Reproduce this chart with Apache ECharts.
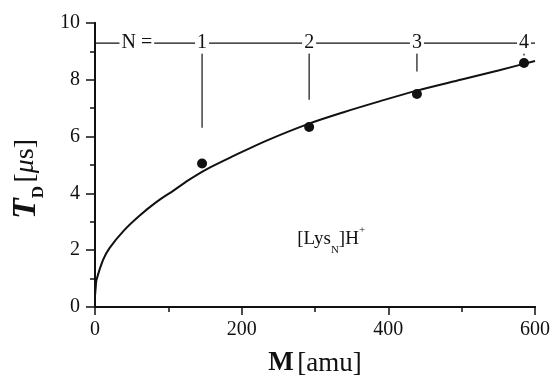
<!DOCTYPE html>
<html>
<head>
<meta charset="utf-8">
<script src="https://cdn.jsdelivr.net/npm/echarts@6/dist/echarts.min.js"></script>
<style>html,body{margin:0;padding:0;background:#fff}#c{width:552px;height:379px}</style>
</head>
<body>
<div id="c"></div>
<script>
// ---- data ----
const xTicks = [0, 200, 400, 600];
const yTicks = [0, 2, 4, 6, 8, 10];
const clusterN = ['1', '2', '3', '4'];
const massM = [146, 292, 439, 585];          // amu
const tdValues = [5.05, 6.34, 7.50, 8.59];     // µs
const stemTop = 8.95;
const stemBottom = [6.31, 7.30, 8.29, 8.86];
const headerLevel = 9.29;
const headerLabelM = 57;                       // position of "N ="
const curveM = [0, 1, 2, 11, 20, 39, 61, 84, 107, 127, 152, 189, 234, 291, 339, 389, 439, 500, 550, 600];
const curveT = [0.40, 0.70, 0.95, 1.66, 2.08, 2.68, 3.22, 3.70, 4.10, 4.46, 4.85, 5.32, 5.86, 6.45, 6.86, 7.25, 7.62, 8.01, 8.33, 8.66];
const noteM = 322, noteT = 2.39;

const INK = '#111';
const FONT = '"Liberation Serif","DejaVu Serif",serif';

const chart = echarts.init(document.getElementById('c'), null, {renderer: 'canvas'});

const stemSeries = massM.map((m, i) => ({
  type: 'line', xAxisIndex: 0, yAxisIndex: 0, silent: true, symbol: 'none',
  lineStyle: {color: INK, width: 1.2}, z: 3,
  data: [[m, stemTop], [m, stemBottom[i]]]
}));

const option = {
  animation: false,
  backgroundColor: '#fff',
  grid: {left: 95, right: 17, top: 23, bottom: 72, containLabel: false, outerBoundsMode: 'none'},
  xAxis: [{
    type: 'value', min: xTicks[0], max: xTicks[xTicks.length - 1], interval: 200,
    position: 'bottom',
    axisLine: {show: true, lineStyle: {color: INK, width: 2}},
    axisTick: {show: true, length: 8, lineStyle: {color: INK, width: 1.5}},
    minorTick: {show: true, splitNumber: 2, length: 5, lineStyle: {color: INK, width: 1.5}},
    splitLine: {show: false},
    axisLabel: {margin: 13, color: INK, fontFamily: FONT, fontSize: 20},
    name: '{b|M} {r|[amu]}', nameLocation: 'middle', nameGap: 43,
    nameTextStyle: {rich: {
      b: {fontFamily: FONT, fontSize: 27, fontWeight: 'bold', color: INK},
      r: {fontFamily: FONT, fontSize: 27, color: INK}
    }}
  }, {
    type: 'value', min: 0, max: 600, interval: 100, position: 'top',
    axisLine: {show: true, lineStyle: {color: INK, width: 2}},
    axisTick: {show: true, inside: true, length: 3, lineStyle: {color: INK, width: 1.5}},
    axisLabel: {show: false}, splitLine: {show: false}
  }],
  yAxis: [{
    type: 'value', min: yTicks[0], max: yTicks[yTicks.length - 1], interval: 2,
    position: 'left',
    axisLine: {show: true, lineStyle: {color: INK, width: 2}},
    axisTick: {show: true, length: 9, lineStyle: {color: INK, width: 1.5}},
    minorTick: {show: true, splitNumber: 2, length: 5, lineStyle: {color: INK, width: 1.5}},
    splitLine: {show: false},
    axisLabel: {margin: 15, color: INK, fontFamily: FONT, fontSize: 20},
    name: '{T|T}{D|D}{sp| }{r|[}{mu|μ}{r|s]}', nameLocation: 'middle', nameGap: 52, nameRotate: 90,
    nameTextStyle: {padding: [0, 28, 0, 0], rich: {
      T: {fontFamily: FONT, fontSize: 34, fontWeight: 'bold', fontStyle: 'italic', color: INK},
      D: {fontFamily: FONT, fontSize: 17, fontWeight: 'bold', color: INK, verticalAlign: 'bottom', padding: [0, 0, -4, 0]},
      sp: {fontFamily: FONT, fontSize: 14, color: INK},
      r: {fontFamily: FONT, fontSize: 28, color: INK},
      mu: {fontFamily: FONT, fontSize: 28, fontStyle: 'italic', color: INK}
    }}
  }, {
    type: 'value', min: 0, max: 10, interval: 1, position: 'right',
    axisLine: {show: true, lineStyle: {color: INK, width: 2}},
    axisTick: {show: true, inside: true, length: 4, lineStyle: {color: INK, width: 1.5}},
    axisLabel: {show: false}, splitLine: {show: false}
  }],
  series: [
    {
      type: 'line', name: 'fit', xAxisIndex: 0, yAxisIndex: 0, symbol: 'none', smooth: 0.3,
      lineStyle: {color: INK, width: 2}, z: 4,
      data: curveM.map((m, i) => [m, curveT[i]])
    },
    {
      type: 'scatter', name: 'data', xAxisIndex: 0, yAxisIndex: 0, symbol: 'circle', symbolSize: 10,
      itemStyle: {color: INK, opacity: 1}, z: 5,
      data: massM.map((m, i) => [m, tdValues[i]])
    },
    {
      type: 'line', name: 'header', xAxisIndex: 0, yAxisIndex: 0, symbol: 'none',
      lineStyle: {color: INK, width: 1.2}, z: 3,
      data: [[xTicks[0], headerLevel], [xTicks[xTicks.length - 1], headerLevel]]
    },
    ...stemSeries,
    {
      type: 'scatter', name: 'headerLabels', xAxisIndex: 0, yAxisIndex: 0, symbolSize: 0, z: 10,
      itemStyle: {opacity: 1},
      data: [{value: [headerLabelM, headerLevel], txt: 'N ='}]
        .concat(massM.map((m, i) => ({value: [m, headerLevel], txt: clusterN[i]}))),
      label: {
        show: true, position: 'inside', formatter: p => p.data.txt,
        fontFamily: FONT, fontSize: 20, color: INK,
        backgroundColor: '#fff', padding: [1, 2, 0, 2]
      }
    },
    {
      type: 'scatter', name: 'note', xAxisIndex: 0, yAxisIndex: 0, symbolSize: 0, z: 10,
      itemStyle: {opacity: 1},
      data: [[noteM, noteT]],
      label: {
        show: true, position: 'inside',
        formatter: '{r|[Lys}{s|N}{r|]H}{p|+}',
        rich: {
          r: {fontFamily: FONT, fontSize: 19, color: INK},
          s: {fontFamily: FONT, fontSize: 11, color: INK, verticalAlign: 'bottom', padding: [0, 0, -7, 0]},
          p: {fontFamily: FONT, fontSize: 11, color: INK, verticalAlign: 'top', padding: [-5, 0, 0, 0]}
        }
      }
    }
  ]
};
chart.setOption(option);
</script>
</body>
</html>
